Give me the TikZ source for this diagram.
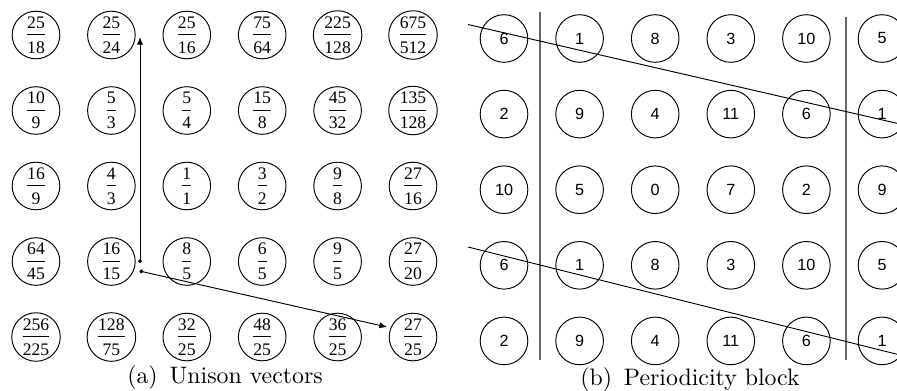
\documentclass[tikz,border=0pt]{standalone}
\usepackage{fontspec}
\usepackage{amsmath}
\usepackage{tikz}
\usetikzlibrary{arrows.meta,positioning,calc}

\newfontfamily\ratiofont{Liberation Serif}
\newfontfamily\pcfont{Liberation Sans}
\newcommand{\ratio}[2]{$\frac{\hbox{\ratiofont\fontsize{7.4}{8}\selectfont\rule[-2.1pt]{0pt}{2.1pt}#1}}{\hbox{\ratiofont\fontsize{7.4}{8}\selectfont\rule{0pt}{7.1pt}#2}}$}

\begin{document}
\begin{tikzpicture}[
    x=0.42pt, y=-0.42pt,
    ratio/.style={circle, draw, minimum size=20pt, inner sep=0pt},
    pc/.style={circle, draw, minimum size=20pt, inner sep=0pt, font=\pcfont\fontsize{6.8}{7}\selectfont},
    vec/.style={{Circle[length=1.6pt]}-{Latex[length=3.2pt,width=2.6pt]}, thin},
    period/.style={thin},
    block/.style={draw=black!60, line width=0.7pt}
]
\useasboundingbox (0,0) rectangle (897,390);
\clip (0,0) rectangle (897,390);

% Unison vectors
\foreach \row/\list in {0/{25/18,25/24,25/16,75/64,225/128,675/512},
                        1/{10/9,5/3,5/4,15/8,45/32,135/128},
                        2/{16/9,4/3,1/1,3/2,9/8,27/16},
                        3/{64/45,16/15,8/5,6/5,9/5,27/20},
                        4/{256/225,128/75,32/25,48/25,36/25,27/25}}
  \foreach \n/\d [count=\c from 0] in \list
    \node[ratio] (u\row\c) at (36+75.4*\c, 35+75.5*\row) {\ratio{\n}{\d}};

\coordinate (o1) at (140,263);
\coordinate (o2) at (139.5,271);
\coordinate (t1) at (140,37);
\coordinate (t2) at (387,327);
\draw[vec] (o1) -- (t1);
\draw[vec] (o2) -- (t2);

\node[anchor=base] (capa) at (225,383) {(a)\enspace Unison vectors};

% Periodicity block
\foreach \row/\list in {0/{6,1,8,3,10,5},
                        1/{2,9,4,11,6,1},
                        2/{10,5,0,7,2,9},
                        3/{6,1,8,3,10,5},
                        4/{2,9,4,11,6,1}}
  \foreach \v [count=\c from 0] in \list
    \node[pc] (p\row\c) at (504+75.6*\c, 38.5+75.6*\row) {\v};

\coordinate (b1) at (540,12);
\coordinate (b2) at (540,360);
\coordinate (b3) at (846,17);
\coordinate (b4) at (846,360);
\draw[block] (b1) -- (b2);
\draw[block] (b3) -- (b4);

\coordinate (d1) at (468,24.5);
\coordinate (d2) at (900,124);
\coordinate (d3) at (468,247);
\coordinate (d4) at (900,355);
\draw[period] (d1) -- (d2);
\draw[period] (d3) -- (d4);

\node[anchor=base] (capb) at (690,385) {(b)\enspace Periodicity block};

\end{tikzpicture}
\end{document}
